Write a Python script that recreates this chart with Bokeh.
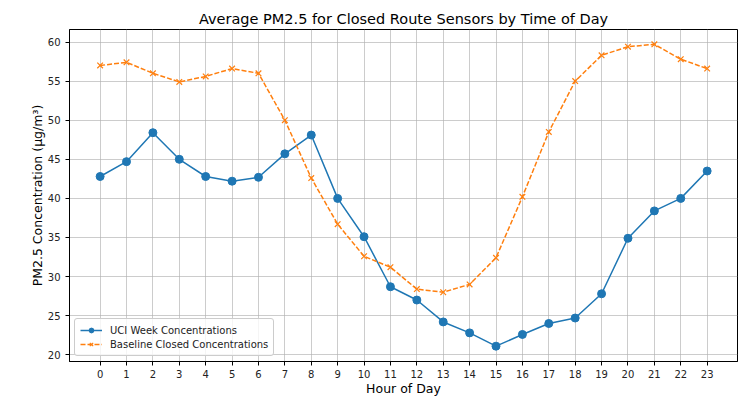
from bokeh.plotting import figure
from bokeh.models import Range1d, FixedTicker, Legend, LegendItem
from bokeh.embed import file_html
from bokeh.resources import INLINE

hours = list(range(24))
uci_week = [42.8, 44.7, 48.4, 45.0, 42.8, 42.2, 42.7, 45.7, 48.1, 40.0, 35.1, 28.7,
            27.0, 24.2, 22.8, 21.1, 22.6, 24.0, 24.7, 27.8, 34.9, 38.4, 40.0, 43.5]
baseline_closed = [57.0, 57.4, 56.0, 54.9, 55.6, 56.6, 56.0, 50.0, 42.6, 36.7, 32.6, 31.2,
                   28.4, 28.0, 29.0, 32.4, 40.2, 48.5, 55.0, 58.3, 59.4, 59.7, 57.8, 56.6]
y_ticks = [20, 25, 30, 35, 40, 45, 50, 55, 60]

FONT = "DejaVu Sans"
BLUE = "#1f77b4"
ORANGE = "#ff7f0e"

p = figure(width=748, height=413, output_backend="svg", toolbar_location=None,
           x_range=Range1d(-1.16, 24.15), y_range=Range1d(19.14, 61.6),
           min_border_left=69, min_border_right=11, min_border_bottom=52, min_border_top=29)

p.title.text = "Average PM2.5 for Closed Route Sensors by Time of Day"
p.title.align = "center"
p.title.text_font = FONT
p.title.text_font_size = "14.5px"
p.title.text_font_style = "normal"
p.title.text_color = "black"
p.title.standoff = 5

p.background_fill_color = "white"
p.border_fill_color = "white"
p.outline_line_color = "black"
p.outline_line_alpha = 1
p.outline_line_width = 1

for ax in (p.xaxis[0], p.yaxis[0]):
    ax.axis_line_color = "black"
    ax.major_tick_line_color = "black"
    ax.major_tick_out = 4
    ax.major_tick_in = 0
    ax.minor_tick_line_color = None
    ax.major_label_text_font = FONT
    ax.major_label_text_font_size = "10px"
    ax.major_label_text_color = "#222222"
    ax.axis_label_text_font = FONT
    ax.axis_label_text_font_size = "12.5px"
    ax.axis_label_text_font_style = "normal"
    ax.axis_label_text_color = "black"

p.xaxis.ticker = FixedTicker(ticks=hours)
p.yaxis.ticker = FixedTicker(ticks=y_ticks)
p.xaxis.axis_label = "Hour of Day"
p.yaxis.axis_label = "PM2.5 Concentration (µg/m³)"
p.xaxis.major_label_standoff = 4
p.yaxis.major_label_standoff = 5
p.xaxis.axis_label_standoff = 0
p.yaxis.axis_label_standoff = 0

p.grid.grid_line_color = "#b0b0b0"
p.grid.grid_line_alpha = 0.65
p.grid.grid_line_width = 1

l1 = p.line(hours, uci_week, line_color=BLUE, line_width=1.5)
m1 = p.scatter(hours, uci_week, marker="circle", size=8, fill_color=BLUE, line_color=BLUE)
l2 = p.line(hours, baseline_closed, line_color=ORANGE, line_width=1.5, line_dash="5 2")
m2 = p.scatter(hours, baseline_closed, marker="x", size=8, line_color=ORANGE, line_width=1.2)

legend = Legend(items=[
    LegendItem(label="UCI Week Concentrations", renderers=[l1, m1]),
    LegendItem(label="Baseline Closed Concentrations", renderers=[l2, m2]),
], location="bottom_left")
legend.label_text_font = FONT
legend.label_text_font_size = "10px"
legend.label_text_color = "#222222"
legend.border_line_color = "#cccccc"
legend.border_line_alpha = 1
legend.border_radius = 3
legend.background_fill_alpha = 0.8
legend.margin = 5
legend.padding = 5
legend.spacing = 2
legend.glyph_width = 22
legend.glyph_height = 12
legend.label_standoff = 8
p.add_layout(legend)

open("out.html", "w").write(file_html(p, INLINE))
